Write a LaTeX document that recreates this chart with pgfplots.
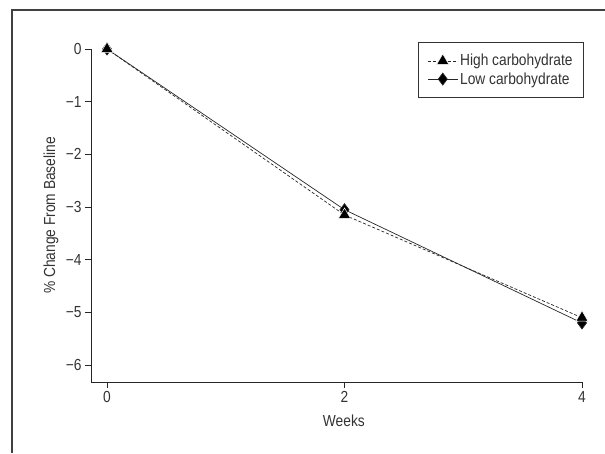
\documentclass[border=0pt]{standalone}
\usepackage{fontspec}
\setmainfont{Liberation Sans}[FakeStretch=0.86]
\usepackage{pgfplots}
\pgfplotsset{compat=1.18}
\begin{document}
\begin{tikzpicture}[x=1pt,y=1pt]
\useasboundingbox (0,0) rectangle (605,453);
\draw[line width=1.4pt,black!75] (12,0) -- (12,443) -- (605,443);
\begin{axis}[
  at={(91pt,71pt)}, anchor=south west,
  scale only axis, width=491pt, height=333pt,
  xmin=-0.135, xmax=4, ymin=-6.32, ymax=0,
  axis lines=left,
  axis line style={-, line width=0.9pt, black!85},
  tick align=outside, major tick length=6pt,
  tick style={line width=0.9pt, black!85},
  xtick={0,2,4}, xticklabels={0,2,4},
  ytick={-6,-5,-4,-3,-2,-1,0},
  yticklabels={−6,−5,−4,−3,−2,−1,0},
  tick label style={font=\fontsize{16}{19}\selectfont, text=black!80},
  xlabel={Weeks}, ylabel={\% Change From Baseline},
  label style={font=\fontsize{16}{19}\selectfont, text=black!80},
  xlabel style={at={(axis description cs:0.515,0)}, anchor=center, yshift=-39pt},
  ylabel style={at={(axis description cs:-0.0815,0.5)}, anchor=center},
  clip=false,
  legend style={at={(rel axis cs:1.004,1.021)}, anchor=north east,
    draw=black!80, line width=0.8pt, font=\fontsize{16}{19}\selectfont,
    text=black!80, inner xsep=9pt, inner ysep=10pt, row sep=1pt,
    cells={anchor=west}},
  reverse legend,
  legend image code/.code={\draw[mark repeat=2,mark phase=2,#1] plot coordinates {(0pt,0pt)(15pt,0pt)(30pt,0pt)};},
]
\addplot[black!85, line width=0.7pt, mark=diamond*, mark size=6pt, mark options={solid, fill=black}]
  coordinates {(0,0) (2,-3.05) (4,-5.2)};
\addlegendentry{Low carbohydrate}
\addplot[black!85, line width=0.7pt, densely dashed, mark=triangle*, mark size=7pt, mark options={solid, fill=black, draw=white, line width=0.5pt}]
  coordinates {(0,0) (2,-3.15) (4,-5.1)};
\addlegendentry{High carbohydrate}
\end{axis}
\end{tikzpicture}
\end{document}
